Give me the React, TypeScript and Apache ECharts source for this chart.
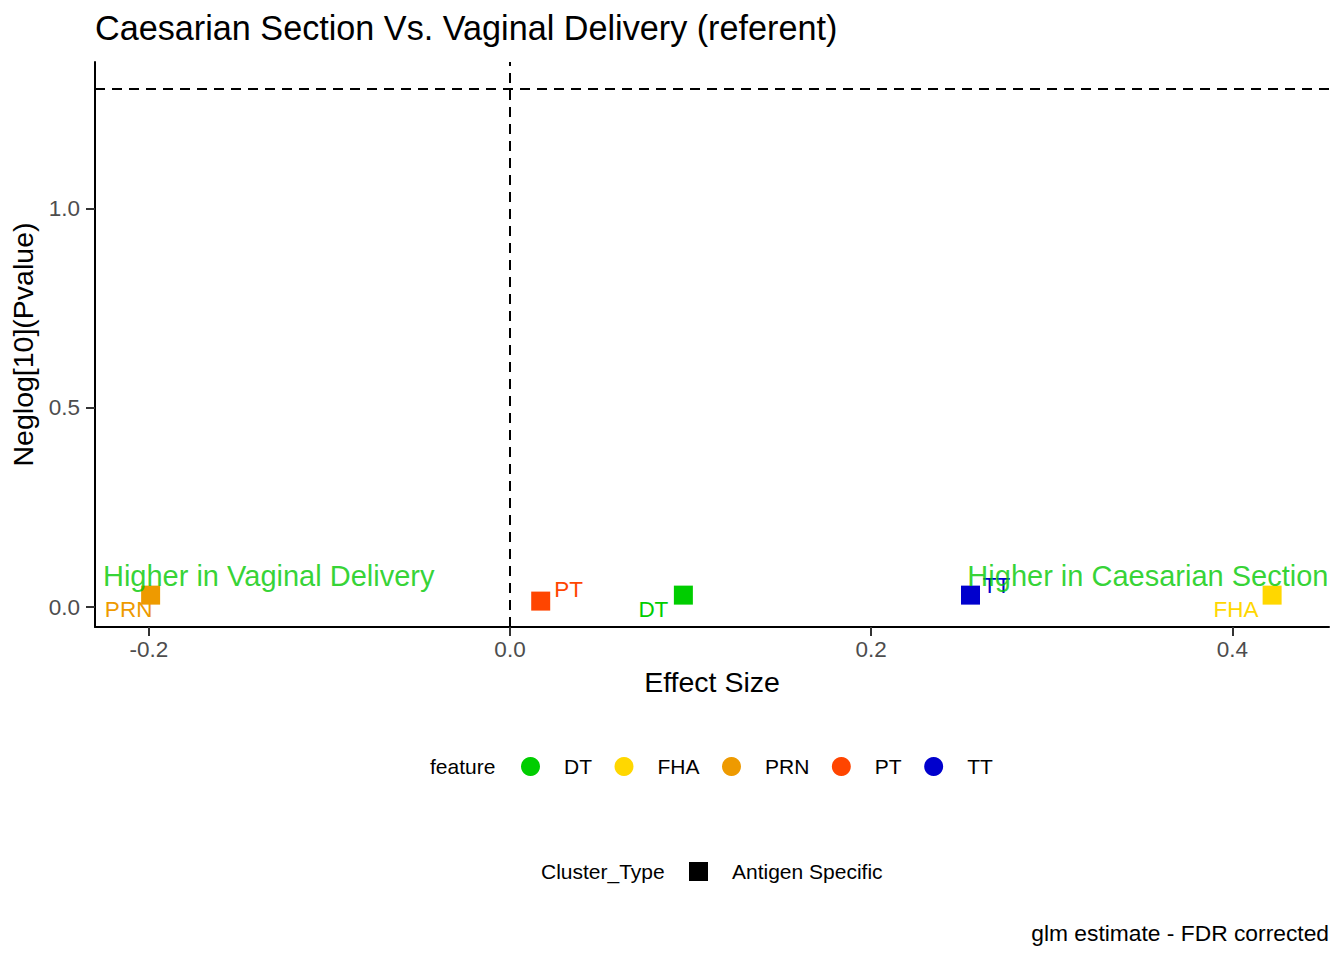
import React, { useEffect, useRef } from 'react';
import * as echarts from 'echarts';

// ---------- data ----------
const features = ['DT', 'FHA', 'PRN', 'PT', 'TT'];
const effectSize = [0.096, 0.422, -0.199, 0.017, 0.255];
const negLog10P = [0.03, 0.03, 0.03, 0.015, 0.03];
const clusterTypes = ['Antigen Specific'];
const xTickValues = [-0.2, 0.0, 0.2, 0.4];
const yTickValues = [0.0, 0.5, 1.0];
const xRange = [-0.2298, 0.4535];
const yRange = [-0.05, 1.368];
const significanceLine = -Math.log10(0.05);
const effectReference = 0;
const annotationTexts = ['Higher in Vaginal Delivery', 'Higher in Caesarian Section'];
const annotationX = [-0.2254, 0.4532];
const annotationY = 0.078;
const chartTitle = 'Caesarian Section Vs. Vaginal Delivery (referent)';
const caption = 'glm estimate - FDR corrected';
const xTitle = 'Effect Size';
const yTitle = 'Neglog[10](Pvalue)';

// ---------- styles ----------
const FONT = '"Liberation Sans", Arial, Helvetica, sans-serif';
const featureColors: Record<string, string> = {
  DT: '#00CD00',
  FHA: '#FFD700',
  PRN: '#EE9A00',
  PT: '#FF4500',
  TT: '#0000CD',
};
const clusterColor = '#000000';
const labelOffsets: Record<string, number[]> = {
  DT: [-30, 14],
  FHA: [-36, 14],
  PRN: [-22, 14],
  PT: [28, -12],
  TT: [26, -10],
};
const annotationColor = '#00C800';

export default function App() {
  const ref = useRef<HTMLDivElement>(null);

  useEffect(() => {
    if (!ref.current) return;
    const chart = echarts.init(ref.current, undefined, { renderer: 'svg' });

    const pointSeries = features.map((f, i) => ({
      type: 'scatter',
      name: f,
      symbol: 'rect',
      symbolSize: 19,
      z: 3,
      itemStyle: { color: featureColors[f], opacity: 1 },
      data: [[effectSize[i], negLog10P[i]]],
      label: {
        show: true,
        position: 'inside',
        offset: labelOffsets[f],
        formatter: () => f,
        color: featureColors[f],
        fontSize: 22.5,
        fontFamily: FONT,
      },
      emphasis: { disabled: true },
    }));

    const option: any = {
      animation: false,
      textStyle: { fontFamily: FONT },
      title: [
        {
          text: chartTitle,
          left: 95,
          top: 11,
          padding: 0,
          textStyle: { fontSize: 34.2, fontWeight: 'normal', color: '#000', fontFamily: FONT },
        },
        {
          text: caption,
          right: 15,
          top: 921,
          padding: 0,
          textStyle: { fontSize: 22.8, fontWeight: 'normal', color: '#000', fontFamily: FONT },
        },
        {
          text: 'feature',
          left: 430,
          top: 756,
          padding: 0,
          textStyle: { fontSize: 21, fontWeight: 'normal', color: '#000', fontFamily: FONT },
        },
        {
          text: 'Cluster_Type',
          left: 541,
          top: 861,
          padding: 0,
          textStyle: { fontSize: 21, fontWeight: 'normal', color: '#000', fontFamily: FONT },
        },
      ],
      legend: [
        {
          left: 521,
          top: 756,
          padding: 0,
          itemGap: 22.5,
          itemWidth: 19,
          itemHeight: 19,
          selectedMode: false,
          data: features.map((f) => ({ name: f, icon: 'circle' })),
          textStyle: { fontSize: 21, color: '#000', fontFamily: FONT, padding: [0, 0, 0, 19] },
        },
        {
          left: 689,
          top: 861,
          padding: 0,
          itemWidth: 19,
          itemHeight: 19,
          selectedMode: false,
          itemStyle: { color: clusterColor, opacity: 1, borderWidth: 0 },
          data: clusterTypes.map((c) => ({
            name: c,
            icon: 'rect',
            itemStyle: { color: clusterColor, opacity: 1, borderWidth: 0 },
          })),
          textStyle: { fontSize: 21, color: '#000', fontFamily: FONT, padding: [0, 0, 0, 19] },
        },
      ],
      grid: { left: 95, right: 15, top: 62, bottom: 333, containLabel: false },
      xAxis: {
        type: 'value',
        min: xRange[0],
        max: xRange[1],
        name: xTitle,
        nameLocation: 'middle',
        nameGap: 40,
        nameTextStyle: { fontSize: 28.5, color: '#000', fontFamily: FONT },
        axisLine: { show: true, onZero: false, lineStyle: { color: '#000', width: 2 } },
        axisTick: { show: true, length: 9, customValues: xTickValues, lineStyle: { color: '#333', width: 2 } },
        axisLabel: {
          customValues: xTickValues,
          formatter: (v: number) => v.toFixed(1),
          fontSize: 22.5,
          color: '#4D4D4D',
          margin: 11,
          fontFamily: FONT,
        },
        splitLine: { show: false },
      },
      yAxis: {
        type: 'value',
        min: yRange[0],
        max: yRange[1],
        name: yTitle,
        nameLocation: 'middle',
        nameGap: 52,
        nameRotate: 90,
        nameTextStyle: { fontSize: 28.5, color: '#000', fontFamily: FONT },
        axisLine: { show: true, onZero: false, lineStyle: { color: '#000', width: 2 } },
        axisTick: { show: true, length: 9, customValues: yTickValues, lineStyle: { color: '#333', width: 2 } },
        axisLabel: {
          customValues: yTickValues,
          formatter: (v: number) => v.toFixed(1),
          fontSize: 22.5,
          color: '#4D4D4D',
          margin: 15,
          fontFamily: FONT,
        },
        splitLine: { show: false },
      },
      series: [
        {
          type: 'scatter',
          name: 'refLines',
          data: [],
          z: 1,
          markLine: {
            silent: true,
            symbol: 'none',
            animation: false,
            label: { show: false },
            lineStyle: { type: [10, 7], color: '#000', width: 2 },
            data: [{ xAxis: effectReference }, { yAxis: significanceLine }],
          },
        },
        ...pointSeries,
        {
          type: 'scatter',
          name: clusterTypes[0],
          symbol: 'rect',
          color: clusterColor,
          itemStyle: { color: clusterColor, opacity: 1 },
          data: [],
        },
        {
          type: 'scatter',
          name: 'annotations',
          symbolSize: 0,
          z: 10,
          silent: true,
          data: [
            { value: [annotationX[0], annotationY], label: { align: 'left' } },
            { value: [annotationX[1], annotationY], label: { align: 'right' } },
          ],
          label: {
            show: true,
            position: 'inside',
            verticalAlign: 'middle',
            formatter: (p: any) => annotationTexts[p.dataIndex],
            color: annotationColor,
            fontSize: 29,
            fontFamily: FONT,
          },
          emphasis: { disabled: true },
        },
      ],
    };

    chart.setOption(option);
    return () => chart.dispose();
  }, []);

  return (
    <div
      ref={ref}
      style={{ position: 'fixed', left: 0, top: 0, width: 1344, height: 960, background: '#fff' }}
    />
  );
}
